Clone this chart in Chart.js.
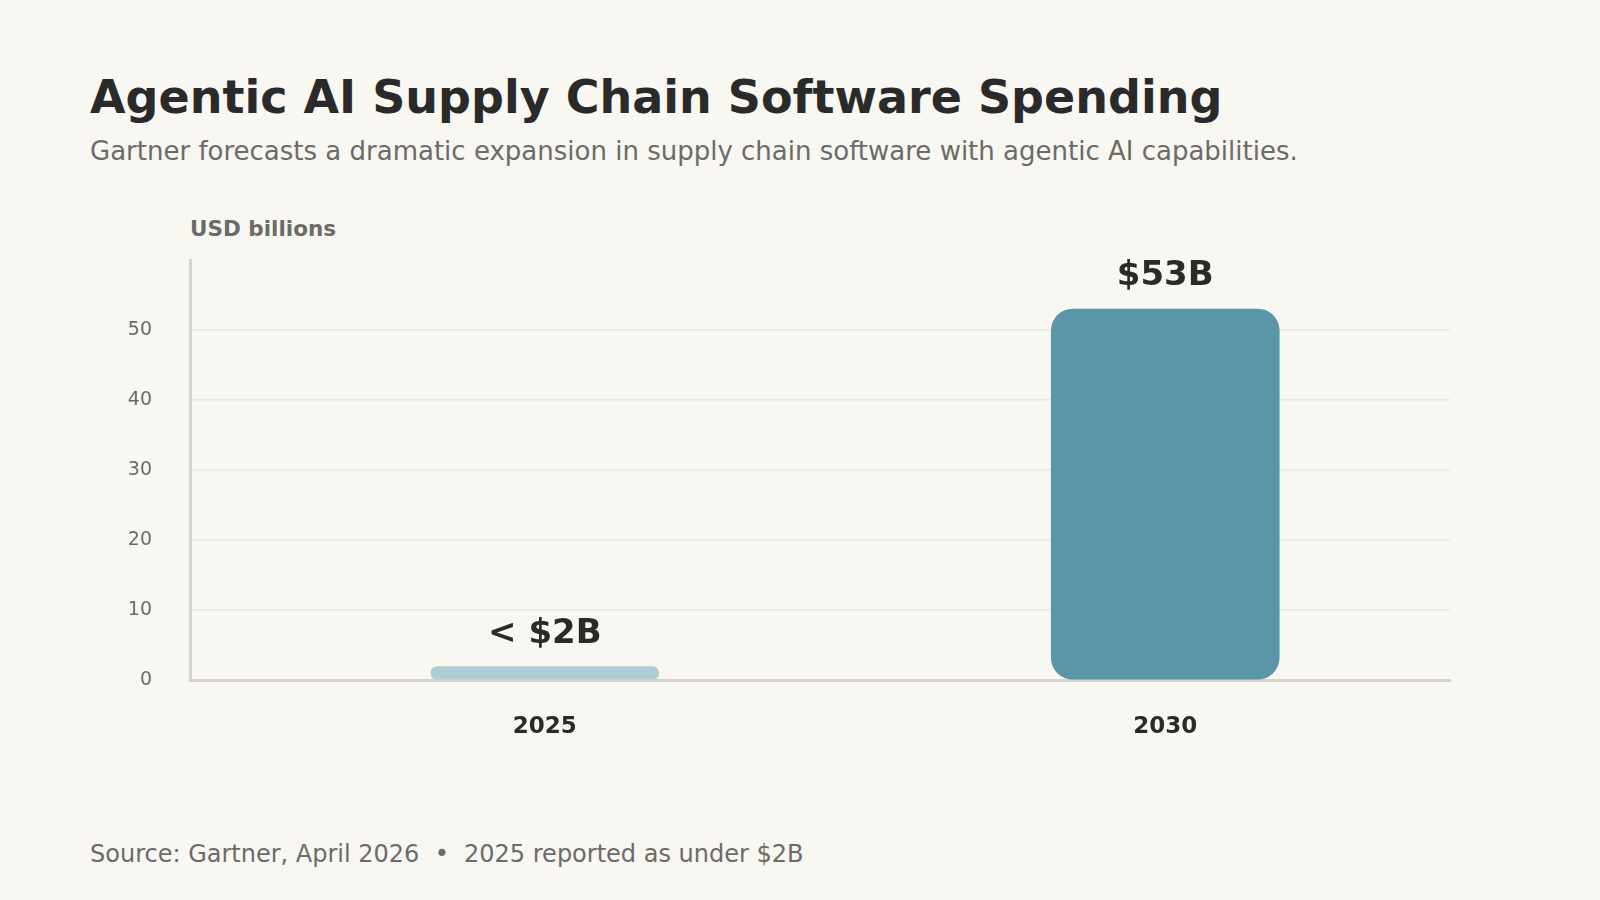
<!DOCTYPE html>
<html><head><meta charset="utf-8">
<script src="https://cdn.jsdelivr.net/npm/chart.js@4"></script>
<style>
html,body{margin:0;padding:0;background:#f9f7f1;width:1600px;height:900px;overflow:hidden;font-family:"DejaVu Sans",sans-serif;}
#t{position:absolute;left:90px;top:70px;font-size:46px;font-weight:bold;color:#2a2a2a;}
#s{position:absolute;left:90px;top:136px;font-size:26px;color:#6b6b68;}
#u{position:absolute;left:190px;top:216px;font-size:21.5px;font-weight:bold;color:#6b6b68;}
#f{position:absolute;left:90px;top:840px;font-size:24px;color:#6b6b68;}
#c{position:absolute;left:0;top:0;}
</style></head><body>
<div id="t">Agentic AI Supply Chain Software Spending</div>
<div id="s">Gartner forecasts a dramatic expansion in supply chain software with agentic AI capabilities.</div>
<div id="u">USD billions</div>
<div id="f">Source: Gartner, April 2026 &nbsp;•&nbsp; 2025 reported as under $2B</div>
<canvas id="c" width="1600" height="900"></canvas>
<script>
const categories=["2025","2030"];
const values=[1.9,53];
const valueLabels=["< $2B","$53B"];
const barColors=["#aecdd5","#5b95a8"];
const yTicks=[0,10,20,30,40,50];
const labelPlugin={id:"lbl",afterDatasetsDraw(ch){const ctx=ch.ctx;const m=ch.getDatasetMeta(0);ctx.save();ctx.font="bold 34px 'DejaVu Sans'";ctx.fillStyle="#2a2a2a";ctx.textAlign="center";ctx.textBaseline="alphabetic";m.data.forEach((b,i)=>{ctx.fillText(valueLabels[i],b.x,b.y-24);});ctx.restore();}};
new Chart(document.getElementById("c"),{type:"bar",
data:{datasets:[{data:categories.map((c,i)=>({x:i,y:values[i]})),backgroundColor:barColors,borderRadius:[8,22],borderSkipped:false,barThickness:228}]},
options:{responsive:false,animation:false,devicePixelRatio:1,
layout:{padding:{left:100,right:150,top:260,bottom:160}},
plugins:{legend:{display:false},tooltip:{enabled:false}},
scales:{
y:{min:0,max:60,afterFit(s){s.width=90;},afterBuildTicks(s){s.ticks=yTicks.map(v=>({value:v}));},
grid:{color:"#ebe8e0",lineWidth:1.5,drawTicks:false},border:{color:"#d6d3cc",width:3},
ticks:{padding:38,color:"#6b6b68",font:{size:19,family:"DejaVu Sans"}}},
x:{type:"linear",min:-0.572,max:1.459,offset:false,afterFit(s){s.height=60;},
afterBuildTicks(s){s.ticks=categories.map((c,i)=>({value:i}));},
grid:{display:false},border:{color:"#d6d3cc",width:3},
ticks:{padding:25,color:"#2a2a2a",callback:(v)=>categories[v],font:{size:23,weight:"bold",family:"DejaVu Sans"}}}
}},plugins:[labelPlugin]});
</script></body></html>
